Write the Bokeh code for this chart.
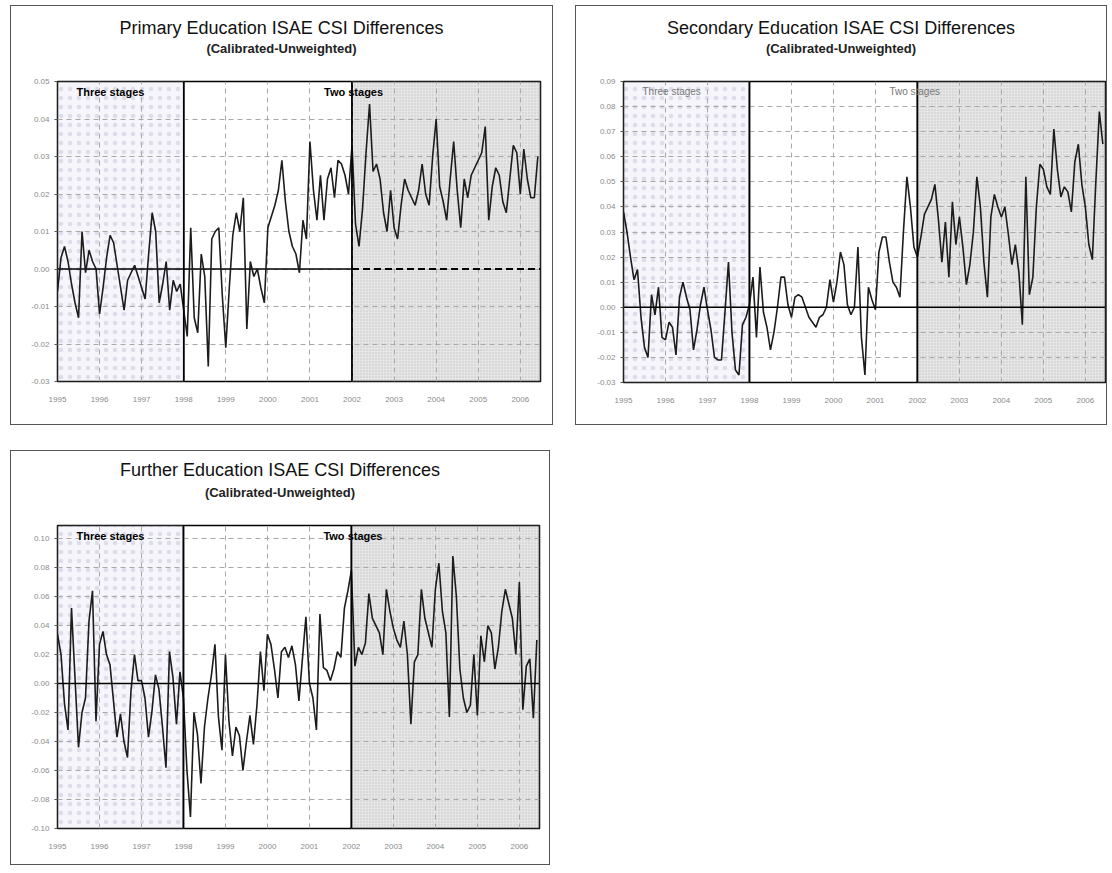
from bokeh.plotting import figure
from bokeh.layouts import column, row
from bokeh.models import (Label, Span, FixedTicker, NumeralTickFormatter, Range1d, Div)
from bokeh.embed import file_html
from bokeh.resources import INLINE

# ---------------- data ----------------
START_YEAR = 1995
N_MONTHS = 138
months = [START_YEAR + m / 12 for m in range(N_MONTHS)]
years = list(range(1995, 2007))
X_END = 2006.48
three_stages = [1995, 1998]
two_stages = [2002, X_END]

primary = [
    -0.006, 0.003, 0.006, 0.002, -0.004, -0.009, -0.013, 0.010, -0.001, 0.005, 0.002, 0.000,
    -0.012, -0.005, 0.003, 0.009, 0.007, 0.001, -0.005, -0.011, -0.003, -0.001, 0.001, -0.002,
    -0.005, -0.008, 0.004, 0.015, 0.010, -0.009, -0.004, 0.002, -0.011, -0.003, -0.006, -0.004,
    -0.011, -0.018, 0.011, -0.013, -0.017, 0.004, -0.002, -0.026, 0.008, 0.010, 0.011, -0.007,
    -0.021, -0.005, 0.009, 0.015, 0.010, 0.019, -0.016, 0.002, -0.002, 0.000, -0.005, -0.009,
    0.011, 0.014, 0.017, 0.021, 0.029, 0.018, 0.010, 0.006, 0.004, -0.001, 0.013, 0.008,
    0.034, 0.021, 0.013, 0.025, 0.013, 0.024, 0.027, 0.019, 0.029, 0.028, 0.025, 0.020,
    0.033, 0.012, 0.006, 0.016, 0.031, 0.044, 0.026, 0.028, 0.024, 0.015, 0.010, 0.021,
    0.011, 0.008, 0.017, 0.024, 0.021, 0.019, 0.017, 0.021, 0.028, 0.020, 0.017, 0.030,
    0.040, 0.022, 0.018, 0.013, 0.024, 0.034, 0.021, 0.011, 0.024, 0.019, 0.025, 0.027,
    0.029, 0.031, 0.038, 0.013, 0.022, 0.027, 0.025, 0.018, 0.015, 0.024, 0.033, 0.031,
    0.020, 0.032, 0.024, 0.019, 0.019, 0.030,
]

secondary = [
    0.038, 0.030, 0.020, 0.011, 0.015, -0.004, -0.016, -0.020, 0.005, -0.003, 0.008, -0.012,
    -0.013, -0.006, -0.008, -0.019, 0.004, 0.010, 0.004, -0.001, -0.017, -0.009, 0.001, 0.008,
    -0.001, -0.009, -0.020, -0.021, -0.021, -0.002, 0.018, -0.010, -0.025, -0.027, -0.007, -0.004,
    0.001, 0.012, -0.012, 0.016, -0.002, -0.008, -0.017, -0.010, 0.000, 0.012, 0.012, 0.001,
    -0.004, 0.004, 0.005, 0.004, 0.000, -0.004, -0.006, -0.008, -0.004, -0.003, 0.000, 0.011,
    0.002, 0.010, 0.022, 0.017, 0.001, -0.003, 0.000, 0.024, -0.012, -0.027, 0.008, 0.003,
    -0.001, 0.022, 0.028, 0.028, 0.018, 0.010, 0.008, 0.004, 0.030, 0.052, 0.040, 0.024,
    0.020, 0.028, 0.037, 0.040, 0.043, 0.049, 0.035, 0.018, 0.034, 0.012, 0.042, 0.025,
    0.036, 0.024, 0.009, 0.017, 0.030, 0.052, 0.040, 0.018, 0.004, 0.036, 0.045, 0.040,
    0.036, 0.040, 0.029, 0.017, 0.025, 0.014, -0.007, 0.052, 0.005, 0.012, 0.040, 0.057,
    0.055, 0.048, 0.045, 0.071, 0.055, 0.044, 0.048, 0.046, 0.038, 0.058, 0.065, 0.049,
    0.040, 0.025, 0.019, 0.050, 0.078, 0.065,
]

further = [
    0.034, 0.020, -0.014, -0.032, 0.052, 0.004, -0.044, -0.020, -0.010, 0.043, 0.064, -0.026,
    0.027, 0.036, 0.020, 0.013, -0.012, -0.037, -0.021, -0.040, -0.051, -0.005, 0.020, 0.002,
    0.002, -0.010, -0.037, -0.019, 0.006, -0.004, -0.030, -0.058, 0.022, 0.004, -0.028, 0.008,
    -0.010, -0.060, -0.092, -0.020, -0.035, -0.069, -0.030, -0.010, 0.006, 0.027, -0.023, -0.046,
    0.020, -0.026, -0.050, -0.030, -0.036, -0.060, -0.040, -0.022, -0.042, -0.015, 0.022, -0.005,
    0.034, 0.027, 0.010, -0.010, 0.022, 0.025, 0.018, 0.026, 0.013, -0.012, 0.017, 0.046,
    0.000, -0.010, -0.032, 0.048, 0.011, 0.009, 0.002, 0.010, 0.022, 0.018, 0.052, 0.064,
    0.078, 0.012, 0.025, 0.020, 0.028, 0.062, 0.045, 0.040, 0.035, 0.020, 0.065, 0.050,
    0.038, 0.030, 0.025, 0.043, 0.020, -0.028, 0.015, 0.020, 0.065, 0.045, 0.035, 0.025,
    0.065, 0.083, 0.050, 0.035, -0.023, 0.088, 0.060, 0.010, -0.010, -0.020, -0.015, 0.020,
    -0.022, 0.033, 0.015, 0.040, 0.035, 0.010, 0.025, 0.050, 0.065, 0.055, 0.045, 0.020,
    0.070, -0.018, 0.012, 0.017, -0.024, 0.030,
]

primary_ticks = [-0.03, -0.02, -0.01, 0.0, 0.01, 0.02, 0.03, 0.04, 0.05]
secondary_ticks = [-0.03, -0.02, -0.01, 0.0, 0.01, 0.02, 0.03, 0.04, 0.05, 0.06, 0.07, 0.08, 0.09]
further_ticks = [-0.10, -0.08, -0.06, -0.04, -0.02, 0.0, 0.02, 0.04, 0.06, 0.08, 0.10]

SUBTITLE = "(Calibrated-Unweighted)"
FONT = "Liberation Sans"
HEAD_H = 60


def make_head(title, width, top_main, top_sub):
    html = (
        f'<div style="position:relative;width:{width}px;height:{HEAD_H}px;'
        f'font-family:\'{FONT}\',Arial,sans-serif;color:#111;">'
        f'<div style="position:absolute;top:{top_main}px;left:0;right:0;text-align:center;'
        f'font-size:18px;line-height:20px;white-space:nowrap;">{title}</div>'
        f'<div style="position:absolute;top:{top_sub}px;left:0;right:0;text-align:center;'
        f'font-size:13px;line-height:16px;font-weight:bold;color:#222;white-space:nowrap;">'
        f'{SUBTITLE}</div></div>'
    )
    return Div(text=html, width=width, height=HEAD_H, margin=0)


def make_panel(title, values, y0, y1, yticks, width, height, borders,
               label_color, label_bold, head_tops, dashed_zero=False):
    p = figure(width=width, height=height - HEAD_H,
               x_range=Range1d(START_YEAR, X_END), y_range=Range1d(y0, y1),
               output_backend="svg", toolbar_location=None, title_location=None,
               min_border_left=borders[0], min_border_right=borders[1],
               min_border_top=borders[2] - HEAD_H, min_border_bottom=borders[3])
    p.background_fill_color = "white"
    p.border_fill_color = "white"
    p.outline_line_color = "black"
    p.outline_line_width = 1.5

    # shaded regions
    p.quad(left=[three_stages[0]], right=[three_stages[1]], bottom=[y0], top=[y1],
           fill_color="#f5f5fb", line_color="black", line_width=1.5,
           hatch_pattern=".", hatch_color="#8a8aa8", hatch_scale=9, hatch_weight=0.4,
           hatch_alpha=0.22, level="image")
    p.quad(left=[two_stages[0]], right=[two_stages[1]], bottom=[y0], top=[y1],
           fill_color="#e6e6e6", line_color="black", line_width=1.5,
           hatch_pattern=".", hatch_color="#a0a0a0", hatch_scale=3, hatch_alpha=0.5,
           level="image")

    # axes
    p.xaxis.ticker = FixedTicker(ticks=years)
    p.xaxis.formatter = NumeralTickFormatter(format="0")
    p.yaxis.ticker = FixedTicker(ticks=yticks)
    p.yaxis.formatter = NumeralTickFormatter(format="0.00")
    for ax in (p.xaxis, p.yaxis):
        ax.axis_line_color = None
        ax.major_label_text_font = FONT
        ax.major_label_text_font_size = "8px"
        ax.major_label_text_color = "#8a8a8a"
        ax.minor_tick_line_color = None
    p.xaxis.major_tick_line_color = None
    p.xaxis.major_label_standoff = 9
    p.yaxis.major_tick_line_color = "#555"
    p.yaxis.major_tick_out = 3
    p.yaxis.major_tick_in = 0
    p.yaxis.major_label_standoff = 5

    # grid
    p.xgrid.ticker = FixedTicker(ticks=years)
    p.ygrid.ticker = FixedTicker(ticks=yticks)
    for g in (p.xgrid, p.ygrid):
        g.grid_line_color = "#a8a8a8"
        g.grid_line_dash = "5 4"
        g.grid_line_width = 1

    # zero line
    if dashed_zero:
        p.line([three_stages[0], two_stages[0]], [0, 0], line_color="black", line_width=1.6)
        p.line([two_stages[0], two_stages[1]], [0, 0], line_color="black", line_width=1.8,
               line_dash="7 4")
    else:
        p.add_layout(Span(location=0, dimension="width", line_color="black", line_width=1.6))

    # series
    p.line(months, values, line_color="#1c1c1c", line_width=1.6)

    # regime boundaries
    for xb in (three_stages[1], two_stages[0]):
        p.add_layout(Span(location=xb, dimension="height", line_color="black", line_width=1.6))

    # region labels
    style = "bold" if label_bold else "normal"
    size = "11px" if label_bold else "10px"
    p.add_layout(Label(x=three_stages[0], y=y1, x_offset=19, y_offset=-4,
                       text="Three stages", text_baseline="top", text_font=FONT,
                       text_font_size=size, text_font_style=style, text_color=label_color))
    p.add_layout(Label(x=two_stages[0], y=y1, x_offset=-28, y_offset=-4,
                       text="Two stages", text_baseline="top", text_font=FONT,
                       text_font_size=size, text_font_style=style, text_color=label_color))

    head = make_head(title, width, head_tops[0], head_tops[1])
    return column(head, p, spacing=0, styles={"border": "1px solid #555"})


p1 = make_panel("Primary Education ISAE CSI Differences", primary, -0.03, 0.05,
                primary_ticks, 541, 418, (46, 12, 75, 43), "black", True, (12, 35),
                dashed_zero=True)
p2 = make_panel("Secondary Education ISAE CSI Differences", secondary, -0.03, 0.09,
                secondary_ticks, 530, 418, (47, 1, 75, 42), "#777777", False, (12, 35))
p3 = make_panel("Further Education ISAE CSI Differences", further, -0.10, 0.109,
                further_ticks, 538, 413, (46, 10, 74, 36), "black", True, (9, 34))

layout = column(row(p1, p2, spacing=22), p3, spacing=25, margin=(5, 0, 0, 10))

open("out.html", "w").write(file_html(layout, INLINE))
